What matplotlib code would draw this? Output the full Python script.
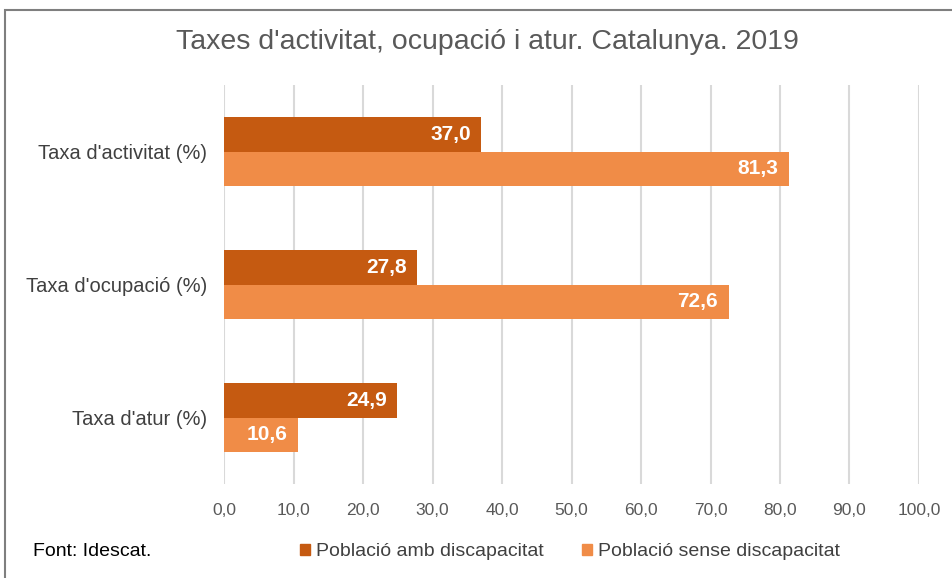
import matplotlib.pyplot as plt
from matplotlib.patches import Rectangle, Patch
import numpy as np

categories = ["Taxa d'activitat (%)", "Taxa d'ocupació (%)", "Taxa d'atur (%)"]
amb_discapacitat = [37.0, 27.8, 24.9]
sense_discapacitat = [81.3, 72.6, 10.6]
series_names = ["Població amb discapacitat", "Població sense discapacitat"]
x_ticks = [0, 10, 20, 30, 40, 50, 60, 70, 80, 90, 100]

dark = "#C55A11"
light = "#F08C47"
font = "Liberation Sans"

fig = plt.figure(figsize=(9.52, 5.78), dpi=100)
# outer chart border (gray, only left and top edges visible)
fig.patches.append(Rectangle((5 / 952, -0.1), 1.2, 1.1 - 10 / 578,
                             transform=fig.transFigure, fill=False,
                             edgecolor="#7f7f7f", linewidth=1.5))

ax = fig.add_axes([224 / 952, 94 / 578, 695 / 952, 399 / 578])

y = np.arange(len(categories))
h = 0.256
b1 = ax.barh(y - h / 2, amb_discapacitat, height=h, color=dark, zorder=3)
b2 = ax.barh(y + h / 2, sense_discapacitat, height=h, color=light, zorder=3)

for bars, vals in ((b1, amb_discapacitat), (b2, sense_discapacitat)):
    for bar, v in zip(bars, vals):
        ax.text(v - 1.5, bar.get_y() + bar.get_height() / 2,
                f"{v:.1f}".replace(".", ","), ha="right", va="center",
                color="white", fontsize=15, fontweight="bold",
                family=font, zorder=4)

ax.set_xlim(0, 100)
ax.set_ylim(2.5, -0.5)
ax.set_xticks(x_ticks)
ax.set_xticklabels([f"{t:.1f}".replace(".", ",") for t in x_ticks],
                   family=font, fontsize=12.5, color="#595959")
ax.set_yticks(y)
ax.set_yticklabels(categories, family=font, fontsize=14.5, color="#404040")
ax.tick_params(axis="both", length=0)
ax.tick_params(axis="x", pad=14)
ax.tick_params(axis="y", pad=12)
ax.grid(axis="x", color="#D9D9D9", linewidth=1.5, zorder=0)
for s in ax.spines.values():
    s.set_visible(False)

fig.text(487 / 952, 1 - 42 / 578, "Taxes d'activitat, ocupació i atur. Catalunya. 2019",
         ha="center", va="center", fontsize=20.5, color="#595959", family=font)

fig.text(33 / 952, 1 - 552 / 578, "Font: Idescat.", ha="left", va="center",
         fontsize=14, color="black", family=font)

handles = [Patch(color=dark), Patch(color=light)]
leg = fig.legend(handles, series_names, loc="center", ncol=2,
                 bbox_to_anchor=(570 / 952, 1 - 552 / 578), frameon=False,
                 handlelength=0.5, handleheight=0.5, handletextpad=0.3,
                 columnspacing=2.0, prop={"family": font, "size": 14})
for t in leg.get_texts():
    t.set_color("#404040")

fig.savefig("out.png", dpi=100)
